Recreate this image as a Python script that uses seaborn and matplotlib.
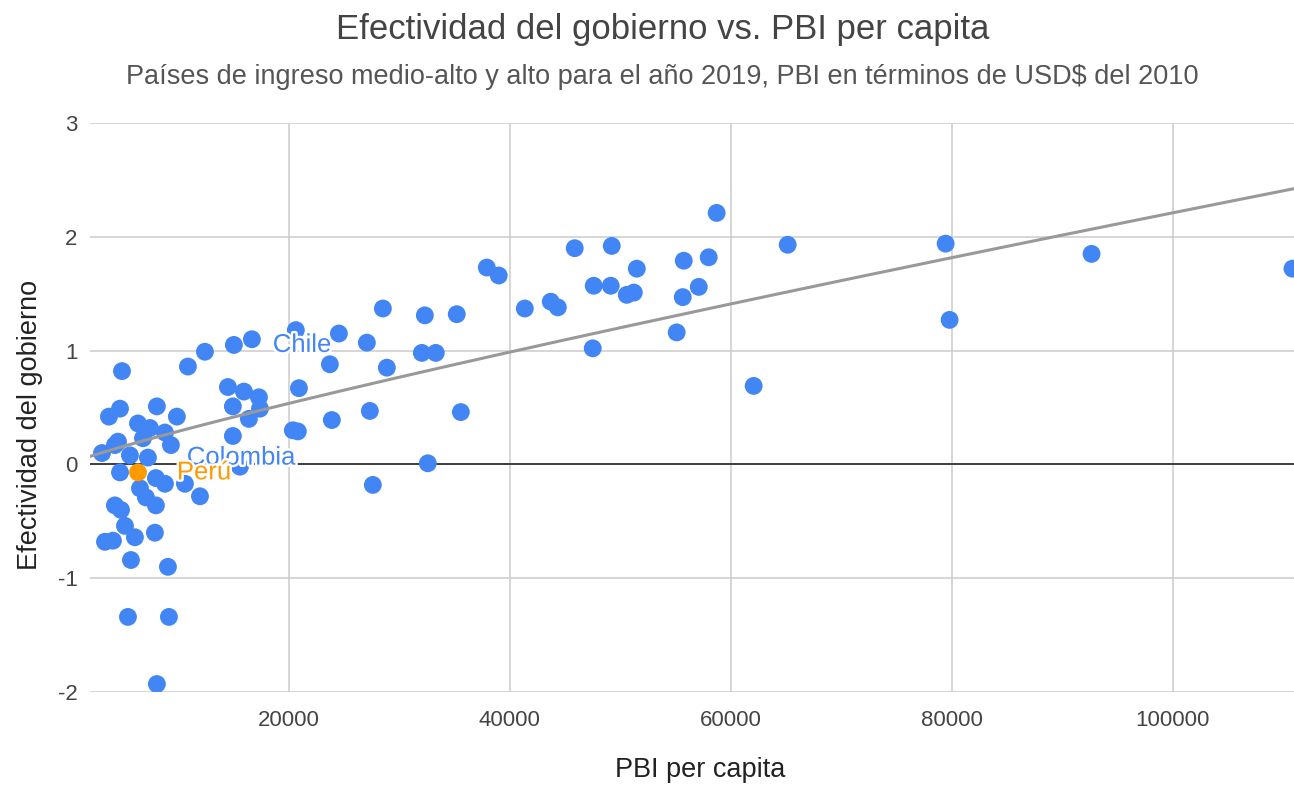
import numpy as np
import pandas as pd
import seaborn as sns
import matplotlib.pyplot as plt
import matplotlib.patheffects as pe

# PBI per capita (USD 2010) y efectividad del gobierno
pbi = [110860, 92670, 79460, 79820, 65160, 62080, 58730, 58010, 57110, 55750,
       55660, 55110, 51500, 51230, 50590, 49230, 49140, 47600, 47510, 45880,
       44350, 43710, 41360, 39000, 37920, 35200, 32310, 33300, 32040,
       35570, 32580, 28510, 28870, 27600, 27330, 27060, 24530, 23890, 23710,
       20910, 20810, 20360, 20630, 16650, 15020, 12400, 10860, 17290, 17380,
       15930, 16380, 14930, 14480, 14930, 15570,
       4890, 3710, 4710, 8050, 9860, 6340, 7420, 8780, 6790, 4530,
       9320, 3080, 4250, 5610, 7240, 4710, 6340, 7960, 8780, 10590,
       11950, 6520, 7060, 7960, 4250, 4800, 5160, 6060, 7870, 3350,
       4070, 5700, 9050, 5430, 9140, 8050]
efectividad = [1.72, 1.85, 1.94, 1.27, 1.93, 0.69, 2.21, 1.82, 1.56, 1.79,
               1.47, 1.16, 1.72, 1.51, 1.49, 1.92, 1.57, 1.57, 1.02, 1.90,
               1.38, 1.43, 1.37, 1.66, 1.73, 1.32, 1.31, 0.98, 0.98,
               0.46, 0.01, 1.37, 0.85, -0.18, 0.47, 1.07, 1.15, 0.39, 0.88,
               0.67, 0.29, 0.30, 1.18, 1.10, 1.05, 0.99, 0.86, 0.59, 0.49,
               0.64, 0.40, 0.51, 0.68, 0.25, -0.02,
               0.82, 0.42, 0.49, 0.51, 0.42, 0.36, 0.32, 0.28, 0.23, 0.20,
               0.17, 0.10, 0.17, 0.08, 0.06, -0.07, -0.07, -0.12, -0.17, -0.17,
               -0.28, -0.21, -0.29, -0.36, -0.36, -0.40, -0.54, -0.64, -0.60, -0.68,
               -0.67, -0.84, -0.90, -1.34, -1.34, -1.93]

# paises con etiqueta
etiquetas = {44: 'Chile', 69: 'Colombia', 71: 'Perú'}
resaltado = 71  # Peru va en naranja

# linea de tendencia (y = a * x^b)
tend_a = 8.8e-5
tend_b = 0.88

azul = '#4285f4'
naranja = '#ff9900'

df = pd.DataFrame({'pbi': pbi, 'efectividad': efectividad})
df['grupo'] = ['Peru' if i == resaltado else 'Otros' for i in range(len(df))]

sns.set_theme(style='white')
plt.rcParams['font.family'] = ['Liberation Sans', 'DejaVu Sans']
plt.rcParams['axes.unicode_minus'] = False

fig = plt.figure(figsize=(12.94, 7.88), dpi=100)
ax = fig.add_axes([0.0696, 0.1218, 0.9304, 0.7221])

ax.axhline(0, color='#333333', lw=1.3, zorder=1)
sns.scatterplot(data=df[df.grupo == 'Otros'], x='pbi', y='efectividad', color=azul,
                s=165, edgecolor='none', ax=ax, zorder=3)
sns.scatterplot(data=df[df.grupo == 'Peru'], x='pbi', y='efectividad', color=naranja,
                s=165, edgecolor='none', ax=ax, zorder=4)

xs = np.linspace(2000, 111000, 300)
ax.plot(xs, tend_a * xs ** tend_b, color='#999999', lw=2.2, zorder=5)

for i, nombre in etiquetas.items():
    col = naranja if i == resaltado else azul
    ax.annotate(nombre, (pbi[i], efectividad[i]), xytext=(28, 0), textcoords='offset points',
                ha='left', va='center', fontsize=18.5, color=col, zorder=6,
                path_effects=[pe.withStroke(linewidth=3.5, foreground='white')])

ax.set_xlim(2000, 111000)
ax.set_ylim(-2, 3)
ax.set_xticks([20000, 40000, 60000, 80000, 100000])
ax.set_yticks([-2, -1, 0, 1, 2, 3])
ax.grid(True, color='#cccccc', lw=1.1, zorder=0)
ax.set_axisbelow(True)
for s in ax.spines.values():
    s.set_visible(False)
ax.tick_params(axis='both', length=0, labelsize=16, colors='#444444', pad=9)
ax.tick_params(axis='x', pad=13)

ax.set_xlabel('')
ax.set_ylabel('')
fig.text(0.541, 0.023, 'PBI per capita', ha='center', va='center', fontsize=19.5, color='#222222')
fig.text(0.023, 0.461, 'Efectividad del gobierno', ha='center', va='center', rotation=90,
         fontsize=19.5, color='#222222')
fig.text(0.512, 0.962, 'Efectividad del gobierno vs. PBI per capita', ha='center', va='center',
         fontsize=25, color='#444444')
fig.text(0.512, 0.902, 'Países de ingreso medio-alto y alto para el año 2019, PBI en términos de USD$ del 2010',
         ha='center', va='center', fontsize=19.5, color='#555555')

fig.savefig('out.png', dpi=100)
